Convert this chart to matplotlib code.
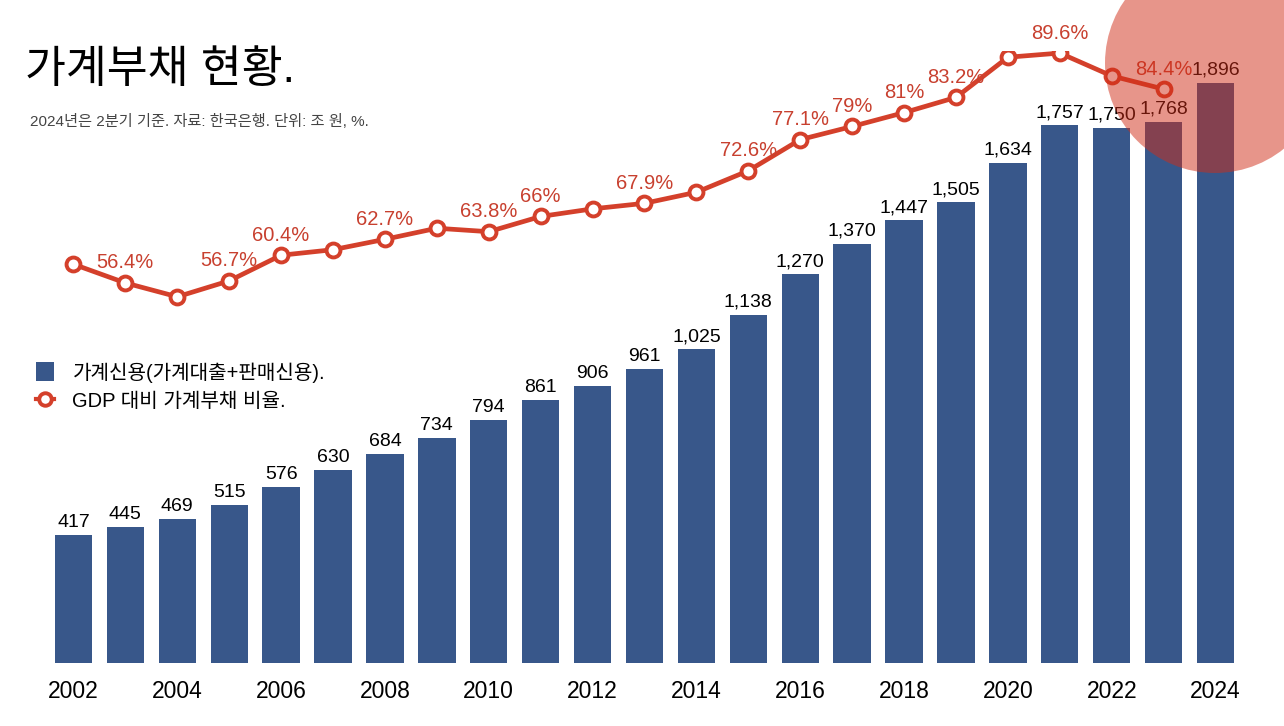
import matplotlib.pyplot as plt
from matplotlib.patches import Ellipse
from matplotlib.lines import Line2D
from matplotlib.patches import Patch

plt.rcParams['font.family'] = ['Liberation Sans', 'Noto Sans CJK KR']

# data
years = list(range(2002, 2025))
credit = [417, 445, 469, 515, 576, 630, 684, 734, 794, 861, 906, 961, 1025,
          1138, 1270, 1370, 1447, 1505, 1634, 1757, 1750, 1768, 1896]
ratio_years = list(range(2002, 2024))
ratio = [59.1, 56.4, 54.4, 56.7, 60.4, 61.2, 62.7, 64.3, 63.8, 66.0, 67.1,
         67.9, 69.5, 72.6, 77.1, 79.0, 81.0, 83.2, 89.0, 89.6, 86.3, 84.4]
ratio_labels = [None, "56.4%", None, "56.7%", "60.4%", None, "62.7%", None,
                "63.8%", "66%", None, "67.9%", None, "72.6%", "77.1%", "79%",
                "81%", "83.2%", None, "89.6%", None, "84.4%"]
tick_years = list(range(2002, 2025, 2))

bar_color = "#38578a"
line_color = "#d4402b"
label_red = "#c8402f"

W, H = 1284, 726
fig = plt.figure(figsize=(W / 100, H / 100), dpi=100)
fig.patch.set_facecolor("white")

ax = fig.add_axes([47.5 / W, 63 / H, 1194 / W, 612 / H])
ax.bar(years, credit, width=0.72, color=bar_color, zorder=2)
ax.set_xlim(2001.5, 2024.5)
ax.set_ylim(0, 2000)
for v_x, v in zip(years, credit):
    ax.annotate(f"{v:,}", (v_x, v), xytext=(0, 4), textcoords="offset pixels",
                ha="center", va="bottom", fontsize=14, color="black")
for s in ax.spines.values():
    s.set_visible(False)
ax.set_yticks([])
ax.set_xticks(tick_years)
ax.set_xticklabels([str(y) for y in tick_years], fontsize=16.5)
ax.tick_params(axis="x", length=0, pad=12)

ax2 = ax.twinx()
ax2.plot(ratio_years, ratio, color=line_color, lw=3.4, marker="o",
         markersize=10, markerfacecolor="white", markeredgecolor=line_color,
         markeredgewidth=2.8, zorder=3)
ax2.set_ylim(1.5, 89.9)
for x, y, t in zip(ratio_years, ratio, ratio_labels):
    if t:
        ax2.annotate(t, (x, y), xytext=(0, 20), textcoords="offset pixels",
                     ha="center", va="center", fontsize=14.5, color=label_red)
ax2.set_yticks([])
for s in ax2.spines.values():
    s.set_visible(False)

# legend
handles = [Patch(facecolor=bar_color),
           Line2D([0], [0], color=line_color, lw=3, marker="o", markersize=9,
                  markerfacecolor="white", markeredgewidth=2.8)]
fig.legend(handles, ["가계신용(가계대출+판매신용).", "GDP 대비 가계부채 비율."],
           loc="upper left", bbox_to_anchor=(18 / W, 1 - 344 / H),
           frameon=False, fontsize=14.5, handlelength=0.9, handleheight=1.1,
           handletextpad=0.9, labelspacing=0.4)

fig.text(25 / W, 1 - 70 / H, "가계부채 현황.", fontsize=32, va="center", ha="left",
         color="black")
fig.text(30 / W, 1 - 121 / H, "2024년은 2분기 기준. 자료: 한국은행. 단위: 조 원, %.",
         fontsize=11, va="center", ha="left", color="#444444")

# highlight circle
circ = Ellipse((1215 / W, 1 - 63 / H), 220 / W, 220 / H,
               transform=fig.transFigure, facecolor="#d12d17", alpha=0.5,
               edgecolor="none", zorder=10)
fig.add_artist(circ)

fig.savefig("out.png", dpi=100)
